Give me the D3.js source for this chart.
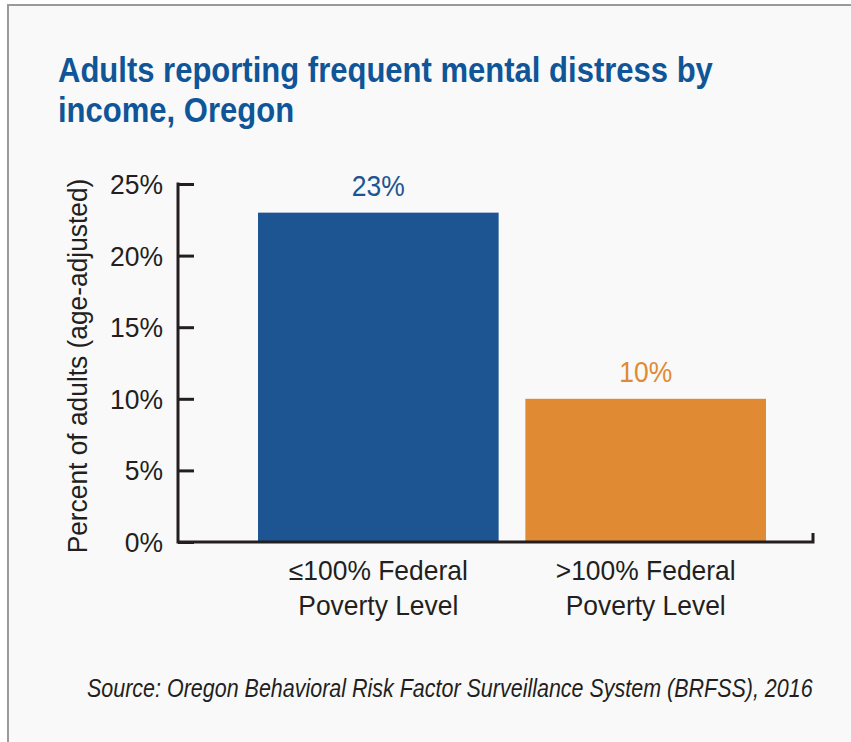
<!DOCTYPE html>
<html>
<head>
<meta charset="utf-8">
<script src="https://cdn.jsdelivr.net/npm/d3@7"></script>
<style>
  html, body { margin: 0; padding: 0; background: #ffffff; }
  svg { display: block; }
  text { font-family: "Liberation Sans", Arial, Helvetica, sans-serif; }
</style>
</head>
<body>
<script>
const titleLines = ["Adults reporting frequent mental distress by", "income, Oregon"];
const categories = ["≤100% Federal Poverty Level", ">100% Federal Poverty Level"];
const categoryLines = [["≤100% Federal", "Poverty Level"], [">100% Federal", "Poverty Level"]];
const values = [23, 10];
const valueLabels = ["23%", "10%"];
const barColors = ["#1c5592", "#e08b33"];
const yTicks = [0, 5, 10, 15, 20, 25];
const yTickLabels = ["0%", "5%", "10%", "15%", "20%", "25%"];
const yAxisTitle = "Percent of adults (age-adjusted)";
const sourceText = "Source: Oregon Behavioral Risk Factor Surveillance System (BRFSS), 2016";

const W = 851, H = 742;
const svg = d3.select("body").append("svg").attr("width", W).attr("height", H);

// condense a group of texts (Helvetica Condensed look) by a horizontal scale derived from a reference width
function condense(sel, refNode, refWidth) {
  const k = refWidth / refNode.getComputedTextLength();
  sel.each(function () {
    const t = d3.select(this);
    const tx = +t.attr("x") || 0, ty = +t.attr("y") || 0;
    const base = t.attr("transform") || "";
    t.attr("x", 0).attr("y", 0)
      .attr("transform", `translate(${tx},${ty}) ${base} scale(${k},1)`);
  });
}

// panel background + border
svg.append("rect").attr("x", 0).attr("y", 0).attr("width", W).attr("height", H).attr("fill", "#ffffff");
svg.append("rect").attr("x", 8).attr("y", 5).attr("width", W + 20).attr("height", H + 20)
  .attr("fill", "#f9f9f9").attr("stroke", "#9a9a9a").attr("stroke-width", 2);

// title
const titleSel = svg.append("g").selectAll("text").data(titleLines).join("text")
  .attr("x", 58).attr("y", (d, i) => 82 + i * 40)
  .attr("fill", "#0f5597").attr("font-weight", "bold").attr("font-size", 35.5)
  .text(d => d);
condense(titleSel, titleSel.nodes()[0], 655);

const y = d3.scaleLinear().domain([0, 25]).range([542, 184]);
const x = d3.scaleBand().domain(categories).range([258, 766]).paddingInner(0.1).paddingOuter(0);

const axisColor = "#231f20";

// bars
svg.append("g").selectAll("rect").data(values).join("rect")
  .attr("x", (d, i) => x(categories[i]))
  .attr("width", x.bandwidth())
  .attr("y", d => y(d))
  .attr("height", d => y(0) - y(d))
  .attr("fill", (d, i) => barColors[i]);

// y axis
const yAxis = d3.axisRight(y).tickValues(yTicks).tickSize(16).tickFormat("");
const gy = svg.append("g").attr("transform", "translate(178,0)").call(yAxis);
gy.select(".domain").remove();
gy.selectAll(".tick line").attr("stroke", axisColor).attr("stroke-width", 3);
svg.append("line").attr("x1", 178).attr("x2", 178).attr("y1", y(25) - 1.5).attr("y2", y(0) + 1.5)
  .attr("stroke", axisColor).attr("stroke-width", 3);

// y tick labels
const tickSel = svg.append("g").selectAll("text").data(yTicks).join("text")
  .attr("x", 163).attr("y", d => y(d) + 10)
  .attr("text-anchor", "end").attr("font-size", 28).attr("fill", "#231f20")
  .text((d, i) => yTickLabels[i]);
condense(tickSel, tickSel.nodes()[5], 53);

// x axis line with end tick
svg.append("path")
  .attr("d", `M178,${y(0)}H813V${y(0) - 9}`)
  .attr("fill", "none").attr("stroke", axisColor).attr("stroke-width", 3);

// value labels
const valSel = svg.append("g").selectAll("text").data(values).join("text")
  .attr("x", (d, i) => x(categories[i]) + x.bandwidth() / 2)
  .attr("y", d => y(d) - 17)
  .attr("text-anchor", "middle").attr("font-size", 29)
  .attr("fill", (d, i) => barColors[i])
  .text((d, i) => valueLabels[i]);
condense(valSel, valSel.nodes()[0], 53);

// category labels
const catData = [];
categories.forEach((c, i) => categoryLines[i].forEach((t, j) => catData.push({ c, t, j })));
const catSel = svg.append("g").selectAll("text").data(catData).join("text")
  .attr("x", d => x(d.c) + x.bandwidth() / 2).attr("y", d => 580 + d.j * 35)
  .attr("text-anchor", "middle").attr("font-size", 27).attr("fill", "#231f20")
  .text(d => d.t);
condense(catSel, catSel.nodes()[0], 179);

// y axis title
const yTitle = svg.append("text")
  .attr("transform", `translate(87,${(y(0) + y(25)) / 2 + 3}) rotate(-90)`)
  .attr("text-anchor", "middle").attr("font-size", 27).attr("fill", "#231f20")
  .text(yAxisTitle);
condense(yTitle, yTitle.node(), 375);

// source
const src = svg.append("text").attr("x", 87).attr("y", 697)
  .attr("font-size", 25).attr("font-style", "italic").attr("fill", "#231f20")
  .text(sourceText);
condense(src, src.node(), 726);
</script>
</body>
</html>
